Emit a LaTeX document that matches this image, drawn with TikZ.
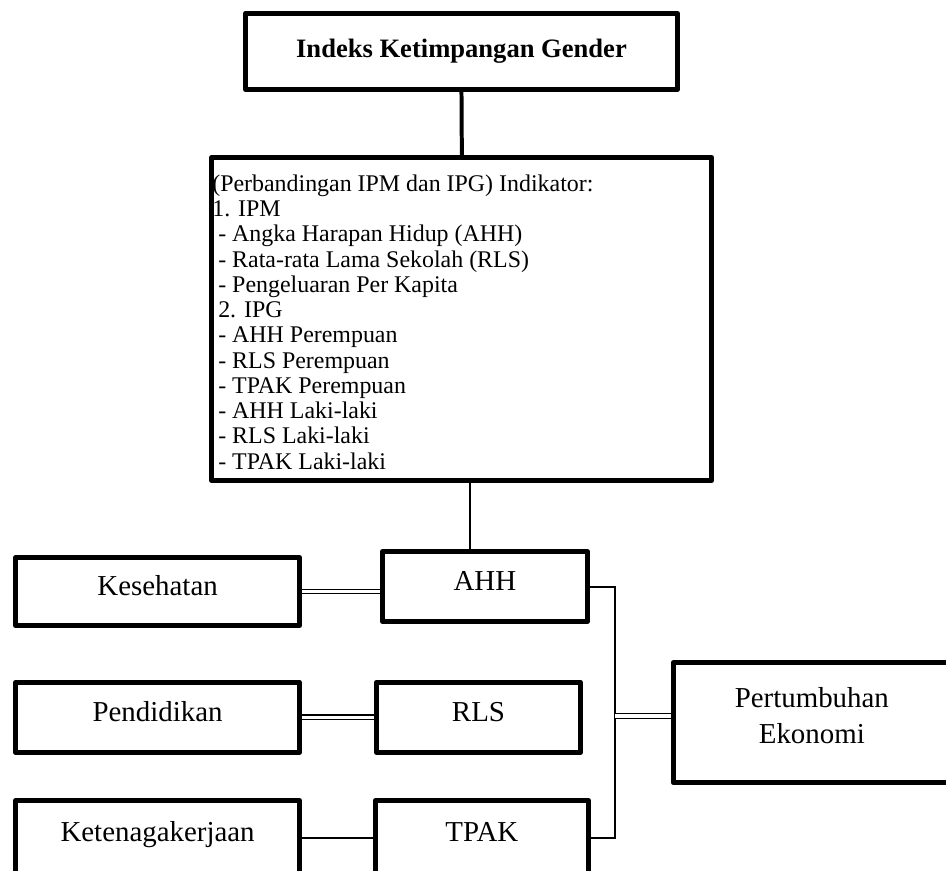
\documentclass[tikz,border=0pt]{standalone}
\usepackage{fontspec}
\setmainfont{Liberation Serif}
\usetikzlibrary{calc}

\begin{document}
\begin{tikzpicture}[
  box/.style={draw,line width=3.75pt,line join=round,inner sep=0pt},
  lbl/.style={font=\fontsize{21.75}{27}\selectfont,text height=15pt,text depth=9pt},
  link/.style={line width=1.5pt},
  dlink/.style={line width=0.9pt,double,double distance=2.6pt}]
  \useasboundingbox (0,0) rectangle (25.03,-23.02);
  \clip (0,0) rectangle (25.03,-23.02);
  \fill[white] (0,0) rectangle (25.03,-23.02);

  \node[box,minimum width=11.43cm,minimum height=2.01cm,font=\fontsize{20}{24}\selectfont\bfseries] (ikg) at (12.21,-1.36) {Indeks Ketimpangan Gender};
  \node[box,minimum width=13.23cm,minimum height=8.55cm] (ind) at (12.22,-8.44) {};
  \node[anchor=north west,align=left,inner sep=0pt,font=\fontsize{18}{19}\selectfont] (indtxt) at (5.61,-4.62)
    {(Perbandingan IPM dan IPG) Indikator:\\1. IPM\\~- Angka Harapan Hidup (AHH)\\~- Rata-rata Lama Sekolah (RLS)\\~- Pengeluaran Per Kapita\\~2. IPG\\~- AHH Perempuan\\~- RLS Perempuan\\~- TPAK Perempuan\\~- AHH Laki-laki\\~- RLS Laki-laki\\~- TPAK Laki-laki};

  \node[box,lbl,minimum width=7.51cm,minimum height=1.80cm] (kes) at (4.17,-15.65) {Kesehatan};
  \node[box,lbl,minimum width=5.42cm,minimum height=1.85cm] (ahh) at (12.83,-15.52) {AHH};
  \node[box,lbl,minimum width=7.51cm,minimum height=1.85cm] (pend) at (4.17,-18.98) {Pendidikan};
  \node[box,lbl,minimum width=5.40cm,minimum height=1.85cm] (rls) at (12.66,-18.98) {RLS};
  \node[box,lbl,minimum width=7.51cm,minimum height=1.96cm] (tnk) at (4.17,-22.16) {Ketenagakerjaan};
  \node[box,lbl,minimum width=5.64cm,minimum height=1.96cm] (tpak) at (12.75,-22.16) {TPAK};
  \node[box,minimum width=7.33cm,minimum height=3.17cm] (perk) at (21.48,-19.12) {};
  \node[align=center,inner sep=0pt,font=\fontsize{21.75}{27}\selectfont] (perktxt) at ($(perk.center)+(0,0.19)$) {Pertumbuhan\\Ekonomi};

  \coordinate (ahhin) at ($(ahh.north)+(-0.4,0)$);
  \coordinate (jx) at (16.28,-15.5);
  \coordinate (perkin) at ($(perk.west)+(0,0.17)$);

  \draw[line width=3pt] (ikg.south) -- (ind.north);
  \draw[line width=1.1pt] (ahhin |- ind.south) -- (ahhin);
  \draw[dlink] (kes.east) -- (kes.east -| ahh.west);
  \draw[dlink] (pend.east) -- (pend.east -| rls.west);
  \draw[link] (tnk.east) -- (tnk.east -| tpak.west);
  \draw[link] (ahh.east) -| (jx |- tpak.east) -- (tpak.east);
  \draw[dlink] (jx |- perkin) -- (perkin);
\end{tikzpicture}
\end{document}
